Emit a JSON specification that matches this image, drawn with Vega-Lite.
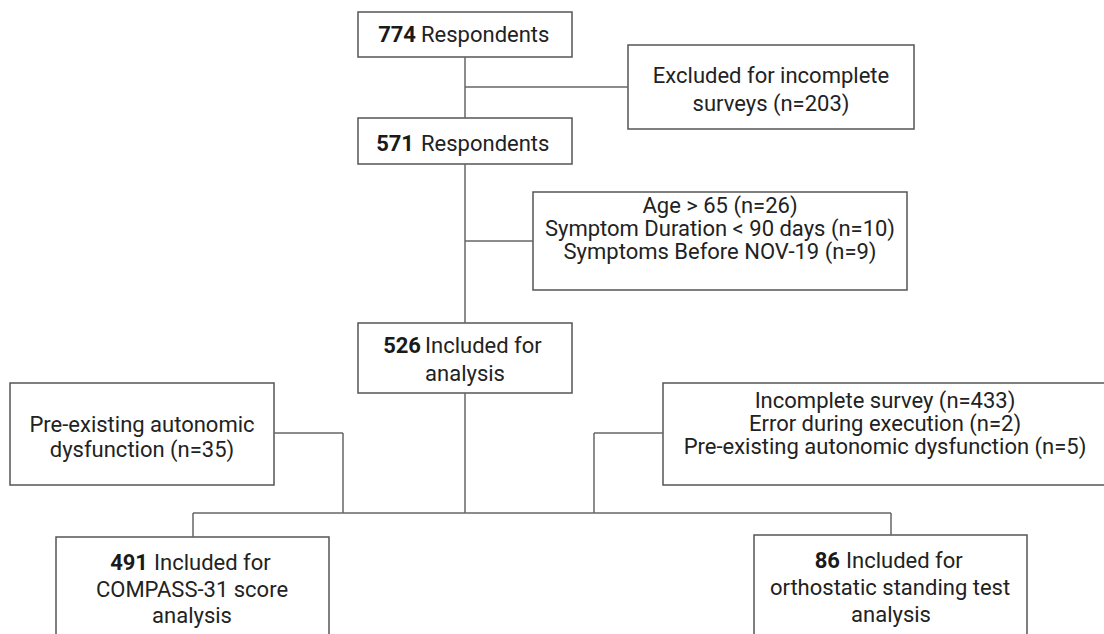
{
  "$schema": "https://vega.github.io/schema/vega-lite/v6.json",
  "width": 1104,
  "height": 634,
  "padding": 0,
  "autosize": {"type": "fit", "contains": "padding"},
  "background": "white",
  "config": {"view": {"stroke": null}},
  "datasets": {
    "boxes": [
      {"x": 358, "x2": 572, "y": 12, "y2": 57},
      {"x": 628, "x2": 914, "y": 45, "y2": 129},
      {"x": 358, "x2": 572, "y": 118, "y2": 164},
      {"x": 533, "x2": 907, "y": 192, "y2": 290},
      {"x": 358, "x2": 572, "y": 323, "y2": 393},
      {"x": 10, "x2": 274, "y": 383, "y2": 485},
      {"x": 663, "x2": 1120, "y": 383, "y2": 485},
      {"x": 56, "x2": 329, "y": 537, "y2": 660},
      {"x": 754, "x2": 1027, "y": 535, "y2": 660}
    ],
    "links": [
      {"x": 465, "y": 57, "x2": 465, "y2": 118},
      {"x": 465, "y": 87, "x2": 628, "y2": 87},
      {"x": 465, "y": 164, "x2": 465, "y2": 323},
      {"x": 465, "y": 241, "x2": 533, "y2": 241},
      {"x": 465, "y": 393, "x2": 465, "y2": 513},
      {"x": 274, "y": 433, "x2": 343, "y2": 433},
      {"x": 343, "y": 433, "x2": 343, "y2": 513},
      {"x": 663, "y": 433, "x2": 594, "y2": 433},
      {"x": 594, "y": 433, "x2": 594, "y2": 513},
      {"x": 193, "y": 513, "x2": 891, "y2": 513},
      {"x": 193, "y": 513, "x2": 193, "y2": 537},
      {"x": 891, "y": 513, "x2": 891, "y2": 535}
    ],
    "labels": [
      {"t": "774", "x": 416, "y": 42, "part": "b"},
      {"t": "Respondents", "x": 421, "y": 42, "part": "r"},
      {"t": "571", "x": 414, "y": 151, "part": "b"},
      {"t": "Respondents", "x": 421, "y": 151, "part": "r"},
      {"t": "Excluded for incomplete", "x": 771, "y": 83, "part": "c"},
      {"t": "surveys (n=203)", "x": 771, "y": 111, "part": "c"},
      {"t": "Age > 65 (n=26)", "x": 720, "y": 213, "part": "c"},
      {"t": "Symptom Duration < 90 days (n=10)", "x": 720, "y": 236, "part": "c"},
      {"t": "Symptoms Before NOV-19 (n=9)", "x": 720, "y": 259, "part": "c"},
      {"t": "526", "x": 421, "y": 353, "part": "b"},
      {"t": "Included for", "x": 425, "y": 353, "part": "r"},
      {"t": "analysis", "x": 465, "y": 381, "part": "c"},
      {"t": "Pre-existing autonomic", "x": 142, "y": 432, "part": "c"},
      {"t": "dysfunction (n=35)", "x": 142, "y": 457, "part": "c"},
      {"t": "Incomplete survey (n=433)", "x": 885, "y": 408, "part": "c"},
      {"t": "Error during execution (n=2)", "x": 885, "y": 431, "part": "c"},
      {"t": "Pre-existing autonomic dysfunction (n=5)", "x": 885, "y": 454, "part": "c"},
      {"t": "491", "x": 148, "y": 570, "part": "b"},
      {"t": "Included for", "x": 154, "y": 570, "part": "r"},
      {"t": "COMPASS-31 score", "x": 192, "y": 597, "part": "c"},
      {"t": "analysis", "x": 192, "y": 623, "part": "c"},
      {"t": "86", "x": 840, "y": 568, "part": "b"},
      {"t": "Included for", "x": 846, "y": 568, "part": "r"},
      {"t": "orthostatic standing test", "x": 890, "y": 595, "part": "c"},
      {"t": "analysis", "x": 891, "y": 622, "part": "c"}
    ]
  },
  "layer": [
    {
      "data": {"name": "boxes"},
      "mark": {"type": "rect", "fill": "white", "stroke": "#555555", "strokeWidth": 1.5, "clip": true},
      "encoding": {
        "x": {"field": "x", "type": "quantitative", "scale": {"domain": [0, 1104], "range": [0, 1104], "nice": false, "zero": false}, "axis": null},
        "x2": {"field": "x2"},
        "y": {"field": "y", "type": "quantitative", "scale": {"domain": [0, 634], "range": [0, 634], "nice": false, "zero": false}, "axis": null},
        "y2": {"field": "y2"}
      }
    },
    {
      "data": {"name": "links"},
      "mark": {"type": "rule", "stroke": "#666666", "strokeWidth": 1.5},
      "encoding": {
        "x": {"field": "x", "type": "quantitative"},
        "x2": {"field": "x2"},
        "y": {"field": "y", "type": "quantitative"},
        "y2": {"field": "y2"}
      }
    },
    {
      "data": {"name": "labels"},
      "transform": [{"filter": "datum.part === 'c'"}],
      "mark": {"type": "text", "font": "Roboto", "fontSize": 22, "align": "center", "baseline": "alphabetic", "color": "#222222"},
      "encoding": {
        "x": {"field": "x", "type": "quantitative"},
        "y": {"field": "y", "type": "quantitative"},
        "text": {"field": "t"}
      }
    },
    {
      "data": {"name": "labels"},
      "transform": [{"filter": "datum.part === 'r'"}],
      "mark": {"type": "text", "font": "Roboto", "fontSize": 22, "align": "left", "baseline": "alphabetic", "color": "#222222"},
      "encoding": {
        "x": {"field": "x", "type": "quantitative"},
        "y": {"field": "y", "type": "quantitative"},
        "text": {"field": "t"}
      }
    },
    {
      "data": {"name": "labels"},
      "transform": [{"filter": "datum.part === 'b'"}],
      "mark": {"type": "text", "font": "Roboto", "fontSize": 22, "fontWeight": "bold", "align": "right", "baseline": "alphabetic", "color": "#1a1a1a"},
      "encoding": {
        "x": {"field": "x", "type": "quantitative"},
        "y": {"field": "y", "type": "quantitative"},
        "text": {"field": "t"}
      }
    }
  ]
}
